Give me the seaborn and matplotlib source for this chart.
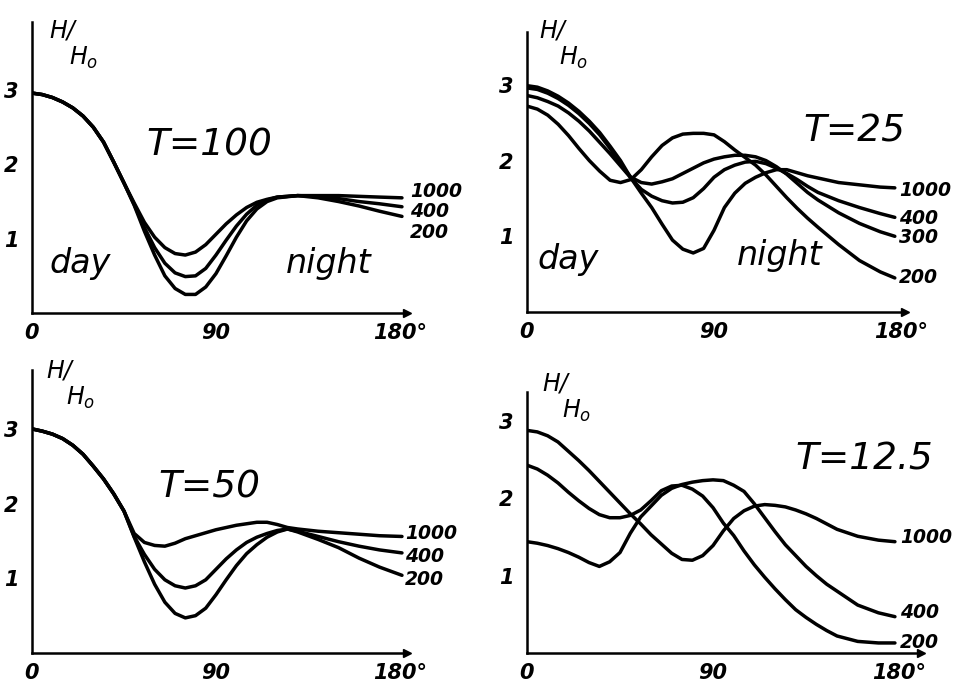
import numpy as np
import pandas as pd
import matplotlib
matplotlib.use("Agg")
import matplotlib.pyplot as plt
import seaborn as sns

# ------------------------------------------------------------------ data
# T = 100
angle_t100 = [0, 5, 10, 15, 20, 25, 30, 35, 40, 45, 50, 55, 60, 65, 70, 75, 80, 85, 90, 95,
              100, 105, 110, 115, 120, 130, 140, 150, 160, 170, 181]
t100_1000 = [2.96, 2.94, 2.9, 2.84, 2.76, 2.65, 2.5, 2.3, 2.03, 1.75, 1.48, 1.22, 1.02, 0.88, 0.8,
             0.78, 0.82, 0.92, 1.06, 1.2, 1.32, 1.42, 1.49, 1.53, 1.56, 1.58, 1.58, 1.58, 1.57, 1.56, 1.55]
t100_400 = [2.96, 2.94, 2.9, 2.84, 2.76, 2.65, 2.5, 2.3, 2.03, 1.75, 1.46, 1.15, 0.88, 0.67, 0.54,
            0.49, 0.5, 0.6, 0.78, 0.98, 1.17, 1.33, 1.45, 1.52, 1.56, 1.58, 1.57, 1.54, 1.5, 1.47, 1.43]
t100_200 = [2.96, 2.94, 2.9, 2.84, 2.76, 2.65, 2.5, 2.3, 2.03, 1.75, 1.45, 1.1, 0.78, 0.5, 0.33,
            0.25, 0.25, 0.35, 0.53, 0.77, 1.02, 1.24, 1.4, 1.5, 1.55, 1.58, 1.55, 1.5, 1.44, 1.37, 1.3]

# T = 25
angle_t25 = [0, 5, 10, 15, 20, 25, 30, 35, 40, 45, 50, 55, 60, 65, 70, 75, 80, 85, 90, 95,
             100, 105, 110, 115, 120, 125, 130, 135, 140, 150, 160, 170, 177]
t25_1000 = [2.99, 2.97, 2.92, 2.85, 2.76, 2.65, 2.52, 2.37, 2.19, 2.0, 1.77, 1.57, 1.38, 1.16, 0.95,
            0.83, 0.78, 0.84, 1.08, 1.38, 1.57, 1.7, 1.78, 1.84, 1.88, 1.88, 1.84, 1.8, 1.77,
            1.71, 1.68, 1.65, 1.64]
t25_400 = [2.86, 2.83, 2.78, 2.72, 2.63, 2.52, 2.39, 2.24, 2.09, 1.93, 1.77, 1.62, 1.53, 1.47, 1.44,
           1.45, 1.51, 1.63, 1.78, 1.88, 1.94, 1.98, 1.99, 1.96, 1.9, 1.83, 1.75, 1.66, 1.58,
           1.47, 1.38, 1.3, 1.25]
t25_300 = [2.96, 2.94, 2.89, 2.82, 2.73, 2.62, 2.49, 2.34, 2.16, 1.95, 1.78, 1.71, 1.69, 1.72, 1.76,
           1.83, 1.9, 1.97, 2.02, 2.05, 2.07, 2.07, 2.05, 2.0, 1.92, 1.82, 1.7, 1.58, 1.48,
           1.31, 1.17, 1.06, 1.0]
t25_200 = [2.72, 2.68, 2.6, 2.48, 2.33, 2.16, 2.0, 1.86, 1.74, 1.71, 1.75, 1.88, 2.05, 2.2, 2.3,
           2.35, 2.36, 2.36, 2.34, 2.25, 2.14, 2.04, 1.94, 1.81, 1.66, 1.51, 1.37, 1.24, 1.12,
           0.89, 0.68, 0.53, 0.45]

# T = 50
angle_t50 = [0, 5, 10, 15, 20, 25, 30, 35, 40, 45, 50, 55, 60, 65, 70, 75, 80, 85, 90, 95,
             100, 105, 110, 115, 120, 125, 130, 140, 150, 160, 170, 181]
t50_1000 = [3.0, 2.97, 2.93, 2.87, 2.78, 2.66, 2.5, 2.33, 2.13, 1.9, 1.6, 1.48, 1.44, 1.43, 1.47,
            1.53, 1.57, 1.61, 1.65, 1.68, 1.71, 1.73, 1.75, 1.75, 1.72, 1.68, 1.66, 1.63, 1.61,
            1.59, 1.57, 1.56]
t50_400 = [3.0, 2.97, 2.93, 2.87, 2.78, 2.66, 2.5, 2.33, 2.13, 1.9, 1.56, 1.32, 1.12, 0.98, 0.9,
           0.87, 0.9, 0.98, 1.12, 1.26, 1.38, 1.48, 1.55, 1.6, 1.64, 1.66, 1.63, 1.56, 1.49,
           1.43, 1.38, 1.34]
t50_200 = [3.0, 2.97, 2.93, 2.87, 2.78, 2.66, 2.5, 2.33, 2.13, 1.9, 1.55, 1.22, 0.92, 0.68, 0.53,
           0.47, 0.5, 0.6, 0.78, 0.98, 1.17, 1.33, 1.45, 1.55, 1.62, 1.66, 1.62, 1.52, 1.41,
           1.27, 1.15, 1.04]

# T = 12.5
angle_t12 = [0, 5, 10, 15, 20, 25, 30, 35, 40, 45, 50, 55, 60, 65, 70, 75, 80, 85, 90, 95,
             100, 105, 110, 115, 120, 125, 130, 135, 140, 145, 150, 160, 170, 178]
t12_1000 = [2.88, 2.86, 2.81, 2.73, 2.61, 2.49, 2.36, 2.22, 2.08, 1.94, 1.8, 1.67, 1.53, 1.41, 1.29,
            1.21, 1.2, 1.26, 1.39, 1.58, 1.74, 1.84, 1.9, 1.92, 1.91, 1.89, 1.85, 1.8, 1.74,
            1.67, 1.6, 1.51, 1.46, 1.44]
t12_400 = [1.44, 1.42, 1.39, 1.35, 1.3, 1.24, 1.17, 1.12, 1.18, 1.3, 1.55, 1.76, 1.9, 2.04, 2.13,
           2.18, 2.21, 2.23, 2.24, 2.23, 2.17, 2.09, 1.93, 1.75, 1.57, 1.4, 1.26, 1.12, 1.0,
           0.89, 0.8, 0.62, 0.52, 0.47]
t12_200 = [2.43, 2.38, 2.3, 2.2, 2.08, 1.97, 1.87, 1.79, 1.75, 1.75, 1.78, 1.85, 1.97, 2.1, 2.16,
           2.17, 2.12, 2.03, 1.88, 1.68, 1.52, 1.32, 1.14, 0.98, 0.83, 0.69, 0.56, 0.46, 0.37,
           0.29, 0.22, 0.15, 0.13, 0.13]

series_names_3 = ["1000", "400", "200"]
series_names_4 = ["1000", "400", "300", "200"]
x_ticks = [0, 90, 180]
x_ticklabels = ["0", "90", "180°"]
y_ticks = [1, 2, 3]
y_ticklabels = ["1", "2", "3"]
titles = ["T=100", "T=25", "T=50", "T=12.5"]

# ------------------------------------------------------------------ figure
W, H = 958, 686
sns.set_style("white")
plt.rcParams["font.family"] = ["DejaVu Sans"]
plt.rcParams["text.color"] = "black"
plt.rcParams["xtick.color"] = "black"
plt.rcParams["ytick.color"] = "black"
plt.rcParams["axes.labelcolor"] = "black"
plt.rcParams["mathtext.fontset"] = "dejavusans"
fig = plt.figure(figsize=(W / 100, H / 100), dpi=100)


def make_axes(x0, y0, pxdeg, pxunit, right, top):
    ax = fig.add_axes([x0 / W, (H - y0) / H, (right - x0) / W, (y0 - top) / H])
    ax.set_xlim(0, (right - x0) / pxdeg)
    ax.set_ylim(0, (y0 - top) / pxunit)
    ax.set_facecolor("white")
    return ax


def style_axes(ax):
    for s in ["top", "right"]:
        ax.spines[s].set_visible(False)
    for s in ["left", "bottom"]:
        ax.spines[s].set_linewidth(1.8)
        ax.spines[s].set_color("black")
    ax.set_xticks(x_ticks)
    ax.set_xticklabels(x_ticklabels)
    ax.set_yticks(y_ticks)
    ax.set_yticklabels(y_ticklabels)
    ax.tick_params(axis="both", length=3, width=1.5, direction="inout", labelsize=15,
                   colors="black", labelcolor="black")
    ax.tick_params(axis="x", pad=6)
    ax.tick_params(axis="y", pad=8)
    for lab in ax.get_xticklabels() + ax.get_yticklabels():
        lab.set_fontstyle("italic")
        lab.set_fontweight("bold")
    ax.set_xlabel("")
    ax.set_ylabel("")
    ax.plot(1, 0, marker=">", color="black", markersize=6, transform=ax.transAxes, clip_on=False)


def draw_lines(ax, angles, names, values):
    df = pd.DataFrame({
        "angle": np.tile(angles, len(names)),
        "H": np.concatenate([np.asarray(v, float) for v in values]),
        "series": np.repeat(names, len(angles)),
    })
    sns.lineplot(data=df, x="angle", y="H", hue="series", hue_order=names,
                 palette={n: "black" for n in names}, legend=False, errorbar=None,
                 linewidth=2.5, ax=ax)


def hlabel(xpx, ypx):
    kw = dict(style="italic", color="black", ha="left", va="top")
    fig.text(xpx / W, 1 - ypx / H, "H/", fontsize=17, **kw)
    fig.text((xpx + 20) / W, 1 - (ypx + 27) / H, r"$H_{o}$", fontsize=17, **kw)


def curve_labels(ax, names, x, ys):
    for n, y in zip(names, ys):
        ax.text(x, y, n, fontsize=13.5, style="italic", fontweight="bold",
                ha="left", va="center", clip_on=False)


# ---- panel 1: T = 100
ax1 = make_axes(32, 313, 2.044, 74.3, 407, 22)
draw_lines(ax1, angle_t100, series_names_3, [t100_1000, t100_400, t100_200])
style_axes(ax1)
curve_labels(ax1, series_names_3, 185, [1.63, 1.36, 1.09])
ax1.text(56, 2.25, titles[0], fontsize=27, style="italic", ha="left", va="center")
ax1.text(8.5, 0.67, "day", fontsize=24, style="italic", ha="left", va="center")
ax1.text(124, 0.67, "night", fontsize=24, style="italic", ha="left", va="center")
hlabel(49, 18)

# ---- panel 2: T = 25
ax2 = make_axes(527, 312, 2.078, 75.7, 905, 32)
draw_lines(ax2, angle_t25, series_names_4, [t25_1000, t25_400, t25_300, t25_200])
style_axes(ax2)
curve_labels(ax2, series_names_4, 179, [1.61, 1.24, 0.98, 0.46])
ax2.text(133, 2.38, titles[1], fontsize=27, style="italic", ha="left", va="center")
ax2.text(5, 0.69, "day", fontsize=24, style="italic", ha="left", va="center")
ax2.text(101, 0.75, "night", fontsize=24, style="italic", ha="left", va="center")
hlabel(539, 18)

# ---- panel 3: T = 50
ax3 = make_axes(32, 653, 2.044, 74.7, 407, 370)
draw_lines(ax3, angle_t50, series_names_3, [t50_1000, t50_400, t50_200])
style_axes(ax3)
curve_labels(ax3, series_names_3, 182.5, [1.6, 1.29, 0.98])
ax3.text(62, 2.22, titles[2], fontsize=27, style="italic", ha="left", va="center")
hlabel(46, 358)

# ---- panel 4: T = 12.5
ax4 = make_axes(527, 653, 2.067, 77.3, 921, 392)
draw_lines(ax4, angle_t12, series_names_3, [t12_1000, t12_400, t12_200])
style_axes(ax4)
curve_labels(ax4, series_names_3, 180.5, [1.5, 0.52, 0.14])
ax4.text(130, 2.5, titles[3], fontsize=27, style="italic", ha="left", va="center")
hlabel(542, 371)

fig.savefig("out.png", dpi=100, facecolor="white")
